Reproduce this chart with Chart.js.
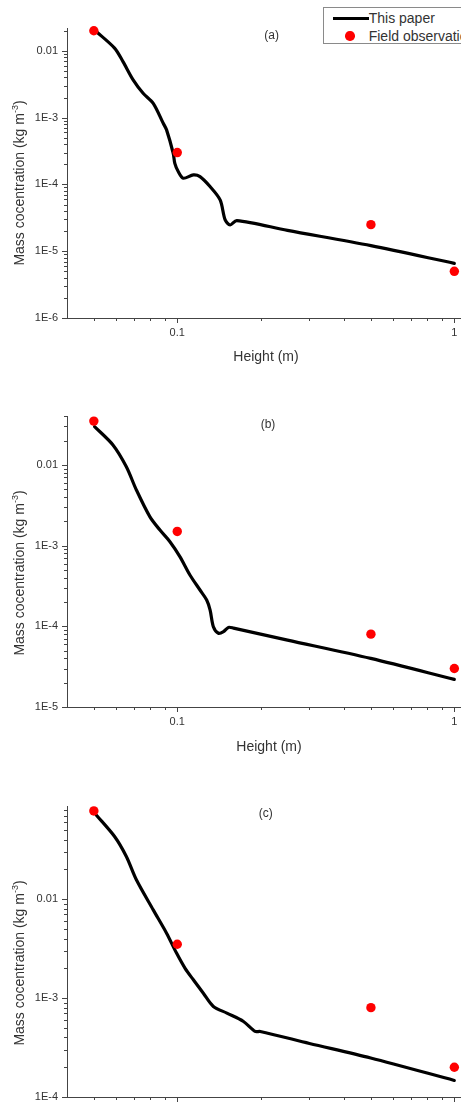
<!DOCTYPE html>
<html>
<head>
<meta charset="utf-8">
<script src="https://cdn.jsdelivr.net/npm/chart.js@4.4.1/dist/chart.umd.min.js"></script>
<style>
html,body{margin:0;padding:0;width:461px;height:1106px;overflow:hidden;background:#fff;}
body{position:relative;font-family:Arial,"Liberation Sans",sans-serif;color:#333;}
canvas{position:absolute;left:0;}
.t{position:absolute;white-space:nowrap;transform:translate(-50%,-50%);line-height:1;}
.yt{position:absolute;white-space:nowrap;transform:translate(-50%,-50%) rotate(-90deg);font-size:14px;line-height:1;}
.yt sup{font-size:9px;vertical-align:6px;line-height:0;}
#legend{position:absolute;left:322.7px;top:6.7px;width:200px;height:35px;border:1px solid #8a8a8a;background:#fff;font-size:14px;}
#legend .sw{position:absolute;left:9px;top:9px;width:36px;height:3px;background:#000;}
#legend .dot{position:absolute;left:21.5px;top:23.8px;width:9.4px;height:9.4px;border-radius:50%;background:#f00;}
#legend .lt{position:absolute;left:45px;transform:translateY(-50%);white-space:nowrap;line-height:1;color:#333;}
</style>
</head>
<body>
<canvas id="cA"></canvas>
<canvas id="cB"></canvas>
<canvas id="cC"></canvas>

<div class="t" style="left:271.7px;top:35px;font-size:12px;">(a)</div>
<div class="t" style="left:268px;top:424px;font-size:12px;">(b)</div>
<div class="t" style="left:265.7px;top:812.7px;font-size:12px;">(c)</div>

<div class="t" style="left:266px;top:356px;font-size:14px;">Height (m)</div>
<div class="t" style="left:269px;top:746px;font-size:14px;">Height (m)</div>

<div class="yt" style="left:18.8px;top:182.7px;">Mass cocentration (kg m<sup>-3</sup>)</div>
<div class="yt" style="left:18.8px;top:572.5px;">Mass cocentration (kg m<sup>-3</sup>)</div>
<div class="yt" style="left:18.8px;top:962.5px;">Mass cocentration (kg m<sup>-3</sup>)</div>

<div id="legend">
  <div class="sw"></div><div class="lt" style="top:10.6px;">This paper</div>
  <div class="dot"></div><div class="lt" style="top:28.5px;">Field observation</div>
</div>

<script>
// ---------- data ----------
const obsHeights = [0.05, 0.1, 0.5, 1];
const obsA = [0.02, 3.0e-4, 2.5e-5, 5.0e-6];
const obsB = [0.035, 1.5e-3, 8.0e-5, 3.0e-5];
const obsC = [0.078, 3.5e-3, 8.0e-4, 2.0e-4];

const modelHeightsA = [0.051, 0.0594, 0.0637, 0.0693, 0.0753, 0.0819, 0.089, 0.0915, 0.0967, 0.098, 0.1008, 0.1051, 0.1143, 0.1208, 0.1313, 0.1428, 0.1489, 0.1552, 0.164, 0.25, 0.5, 1];
const modelA = [0.0195, 0.011, 6.9e-3, 3.68e-3, 2.32e-3, 1.64e-3, 8.24e-4, 6.56e-4, 2.93e-4, 2.07e-4, 1.56e-4, 1.24e-4, 1.39e-4, 1.31e-4, 9.3e-5, 5.86e-5, 2.94e-5, 2.47e-5, 2.87e-5, 2.05e-5, 1.21e-5, 6.59e-6];

const modelHeightsB = [0.0503, 0.0586, 0.0655, 0.0712, 0.0796, 0.0866, 0.0941, 0.1022, 0.1111, 0.1208, 0.1277, 0.1314, 0.135, 0.1408, 0.1469, 0.153, 0.1596, 0.25, 0.499, 1];
const modelB = [0.0299, 0.0177, 9.5e-3, 4.9e-3, 2.29e-3, 1.56e-3, 1.12e-3, 7.31e-4, 4.33e-4, 2.82e-4, 2.12e-4, 1.59e-4, 9.9e-5, 8.2e-5, 8.6e-5, 9.7e-5, 9.5e-5, 6.75e-5, 4.0e-5, 2.2e-5];

const modelHeightsC = [0.051, 0.0594, 0.0655, 0.0712, 0.0819, 0.0915, 0.0994, 0.1066, 0.1143, 0.1242, 0.135, 0.151, 0.1734, 0.191, 0.1993, 0.3, 0.499, 1];
const modelC = [0.0711, 0.043, 0.027, 0.0157, 7.8e-3, 4.53e-3, 2.85e-3, 2.01e-3, 1.53e-3, 1.12e-3, 8.24e-4, 7.05e-4, 5.8e-4, 4.6e-4, 4.6e-4, 3.48e-4, 2.48e-4, 1.47e-4];

const xMajorTicks = [0.1, 1];
const xTickLabels = ['0.1', '1'];
const xMinorTicks = [0.05, 0.06, 0.07, 0.08, 0.09, 0.2, 0.3, 0.4, 0.5, 0.6, 0.7, 0.8, 0.9];
const yMajorTicks = [1e-6, 1e-5, 1e-4, 1e-3, 0.01];
const yTickLabels = ['1E-6', '1E-5', '1E-4', '1E-3', '0.01'];

// ---------- helpers ----------
Chart.defaults.font.family = 'Arial, "Liberation Sans", sans-serif';
Chart.defaults.color = '#333';

function labelFor(v, majors, labels) {
  for (let i = 0; i < majors.length; i++) {
    if (Math.abs(Math.log10(v) - Math.log10(majors[i])) < 1e-6) return labels[i];
  }
  return '';
}

function yTicksFor(min, max) {
  const out = [];
  for (let e = -7; e <= 0; e++) {
    for (let m = 1; m <= 9; m++) {
      const v = m * Math.pow(10, e);
      if (v >= min * 0.9999 && v <= max * 1.0001) out.push({value: v, major: m === 1});
    }
  }
  return out;
}

const tickPlugin = {
  id: 'originTicks',
  afterDraw(chart) {
    const ctx = chart.ctx;
    const xs = chart.scales.x, ys = chart.scales.y;
    ctx.save();
    ctx.strokeStyle = '#444';
    ctx.lineWidth = 1;
    xs.ticks.forEach(t => {
      const px = Math.round(xs.getPixelForValue(t.value)) + 0.5;
      const len = t.major ? 5 : 3;
      ctx.beginPath(); ctx.moveTo(px, xs.top); ctx.lineTo(px, xs.top + len); ctx.stroke();
    });
    ys.ticks.forEach(t => {
      const py = Math.round(ys.getPixelForValue(t.value)) + 0.5;
      const len = t.major ? 5 : 3;
      ctx.beginPath(); ctx.moveTo(ys.right, py); ctx.lineTo(ys.right - len, py); ctx.stroke();
    });
    ctx.restore();
  }
};

function makePanel(id, top, plotTop, plotBottom, yMin, yMax, obs, mh, mv) {
  const cv = document.getElementById(id);
  const W = 480;
  const H = Math.round(plotBottom - top + 22);
  cv.width = W; cv.height = H;
  cv.style.width = W + 'px'; cv.style.height = H + 'px';
  cv.style.top = top + 'px';
  new Chart(cv, {
    type: 'scatter',
    data: {
      datasets: [
        {
          label: 'Field observation',
          data: obsHeights.map((x, i) => ({x: x, y: obs[i]})),
          backgroundColor: '#ff0000', borderColor: '#ff0000',
          pointRadius: 4.7, pointBorderWidth: 0, showLine: false, order: 0, clip: false
        },
        {
          label: 'This paper',
          data: mh.map((x, i) => ({x: x, y: mv[i]})),
          borderColor: '#000', backgroundColor: '#000', borderWidth: 3.2,
          pointRadius: 0, showLine: true, tension: 0.3,
          borderCapStyle: 'round', borderJoinStyle: 'round',
          order: 1, clip: false
        }
      ]
    },
    options: {
      responsive: false, animation: false, devicePixelRatio: 1,
      layout: {padding: {left: 0, right: 15.3, top: plotTop - top, bottom: 0}},
      plugins: {legend: {display: false}, tooltip: {enabled: false}},
      events: [],
      scales: {
        x: {
          type: 'logarithmic', min: 0.04, max: 1.09,
          afterBuildTicks(s) {
            s.ticks = xMinorTicks.map(v => ({value: v, major: false}))
              .concat(xMajorTicks.map(v => ({value: v, major: true})))
              .sort((a, b) => a.value - b.value);
          },
          afterFit(s) { s.height = 22; },
          grid: {display: true, drawOnChartArea: false, drawTicks: true, tickLength: 5, tickColor: 'rgba(0,0,0,0)'},
          border: {display: true, color: '#444', width: 1},
          ticks: {
            autoSkip: false, maxRotation: 0, minRotation: 0, padding: 3,
            font: {size: 11}, color: '#333',
            callback: (v) => labelFor(v, xMajorTicks, xTickLabels)
          }
        },
        y: {
          type: 'logarithmic', min: yMin, max: yMax,
          afterBuildTicks(s) { s.ticks = yTicksFor(yMin, yMax); },
          afterFit(s) { s.width = 67; },
          grid: {display: true, drawOnChartArea: false, drawTicks: true, tickLength: 5, tickColor: 'rgba(0,0,0,0)'},
          border: {display: true, color: '#444', width: 1},
          ticks: {
            autoSkip: false, padding: 4,
            font: {size: 11}, color: '#333',
            callback: (v) => labelFor(v, yMajorTicks, yTickLabels)
          }
        }
      }
    },
    plugins: [tickPlugin]
  });
}

makePanel('cA', 0, 28, 318, 1e-6, 0.022, obsA, modelHeightsA, modelA);
makePanel('cB', 388, 416.4, 707.3, 1e-5, 0.04, obsB, modelHeightsB, modelB);
makePanel('cC', 778, 806, 1097.3, 1e-4, 0.0875, obsC, modelHeightsC, modelC);
</script>
</body>
</html>
